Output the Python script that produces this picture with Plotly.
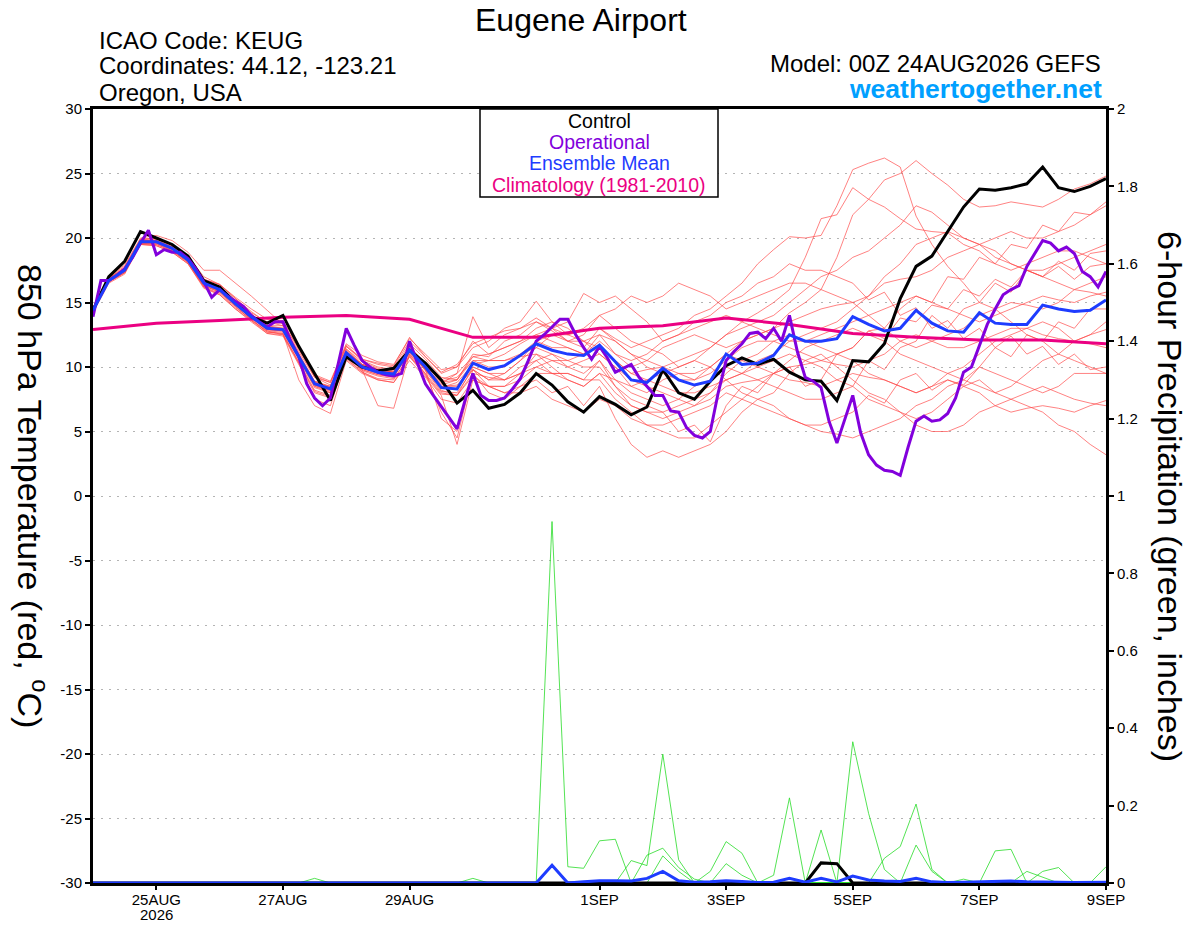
import pandas as pd
import plotly.graph_objects as go

# time axes (GEFS run 00Z 24AUG2026)
times_6h = pd.date_range("2026-08-24 00:00", periods=65, freq="6h")
times_3h = pd.date_range("2026-08-24 00:00", periods=129, freq="3h")
times_day = pd.date_range("2026-08-24 00:00", periods=17, freq="D")

tick_dates = ["2026-08-25", "2026-08-27", "2026-08-29", "2026-09-01",
              "2026-09-03", "2026-09-05", "2026-09-07", "2026-09-09"]
tick_labels = ["25AUG", "27AUG", "29AUG", "1SEP", "3SEP", "5SEP", "7SEP", "9SEP"]
year_label = "2026"

# 850 hPa temperature, deg C (one row = one day, 6-hourly)
control_t = [
    14.4, 17.0, 18.2, 20.5,
    20.0, 19.5, 18.6, 16.7,
    16.2, 15.0, 13.9, 13.4,
    14.0, 11.6, 9.5, 7.4,
    10.8, 10.0, 9.7, 9.9,
    11.3, 10.3, 9.0, 7.2,
    8.2, 6.8, 7.1, 8.0,
    9.5, 8.6, 7.3, 6.5,
    7.7, 7.1, 6.3, 6.9,
    9.8, 8.0, 7.5, 8.9,
    10.1, 10.7, 10.2, 10.6,
    9.6, 9.0, 8.9, 7.4,
    10.5, 10.4, 11.8, 15.3,
    17.8, 18.6, 20.5, 22.4,
    23.8, 23.7, 23.9, 24.2,
    25.5, 23.9, 23.6, 24.0,
    24.6,
]

ens_mean_t = [
    14.4, 16.7, 17.5, 19.7,
    19.7, 19.2, 18.3, 16.5,
    16.0, 14.9, 13.9, 13.0,
    12.9, 10.8, 8.7, 8.3,
    11.1, 10.0, 9.6, 9.45,
    11.3, 10.0, 8.4, 8.3,
    10.3, 9.8, 10.1, 10.9,
    11.8, 11.3, 11.0, 10.9,
    11.7, 10.4, 9.0, 8.8,
    9.9, 9.0, 8.6, 8.9,
    11.0, 10.2, 10.3, 10.9,
    12.5, 12.0, 12.0, 12.2,
    13.9, 13.3, 12.8, 13.0,
    14.4, 13.4, 12.8, 12.7,
    14.2, 13.4, 13.3, 13.3,
    14.8, 14.5, 14.3, 14.4,
    15.2,
]

# operational run, 3-hourly (one row = one day)
operational_t = [
    13.9, 16.7, 16.7, 17.1, 17.6, 18.5, 19.6, 20.6,
    18.7, 19.1, 18.9, 18.9, 18.4, 17.6, 16.6, 15.4,
    16.0, 15.5, 15.1, 14.7, 14.0, 13.5, 13.1, 13.5,
    13.5, 12.0, 10.8, 8.7, 7.6, 7.0, 7.6, 10.3,
    13.0, 11.7, 10.5, 10.0, 9.6, 9.4, 9.3, 9.5,
    12.0, 10.3, 8.7, 7.8, 6.9, 6.0, 5.2, 7.4,
    9.5, 7.8, 7.4, 7.4, 7.6, 8.3, 9.1, 10.5,
    12.0, 12.5, 13.1, 13.7, 13.7, 12.5, 11.5, 10.6,
    11.6, 10.7, 9.6, 9.9, 10.2, 9.2, 8.5, 7.8,
    7.8, 6.6, 6.5, 5.3, 4.7, 4.5, 5.0, 8.0,
    10.5, 11.2, 11.8, 12.6, 12.7, 12.2, 13.0, 12.0,
    14.0, 11.2, 9.2, 8.9, 8.4, 5.8, 4.1, 6.0,
    7.8, 4.9, 3.2, 2.4, 2.0, 1.9, 1.6, 3.8,
    5.8, 6.2, 5.8, 5.9, 6.4, 7.6, 9.6, 10.0,
    11.6, 13.3, 14.5, 15.6, 16.0, 16.3, 17.8, 18.8,
    19.8, 19.6, 19.0, 19.3, 18.8, 17.4, 17.0, 16.2,
    17.4,
]

# climatology (1981-2010), daily
climo_t = [12.9, 13.4, 13.6, 13.85, 14.0, 13.7, 12.3, 12.3, 13.0,
           13.2, 13.8, 13.3, 12.6, 12.3, 12.1, 12.1, 11.8]

# ensemble members, 6-hourly
members_t = [
    [14.6, 17.0, 17.8, 19.9, 20.0, 19.5, 18.6, 17.0, 16.4, 15.3, 14.2, 13.5,
     13.2, 11.2, 9.2, 8.6, 11.6, 10.5, 10.0, 9.8, 11.8, 10.6, 9.2, 9.0,
     11.0, 10.8, 12.0, 12.5, 13.5, 12.8, 12.0, 11.5, 13.0, 12.2, 11.5, 12.0,
     12.5, 13.0, 14.0, 14.5, 15.5, 16.5, 18.0, 19.1, 20.1, 20.0, 20.2, 22.5,
     25.3, 25.8, 26.2, 25.5, 21.7, 19.5, 17.8, 16.5, 15.0, 14.5, 13.5, 12.5,
     12.0, 11.0, 10.5, 10.0, 9.5],
    [14.2, 16.5, 17.2, 19.5, 19.4, 18.9, 18.0, 16.2, 15.6, 14.5, 13.5, 12.6,
     12.4, 10.2, 8.0, 7.6, 10.6, 9.6, 9.0, 8.8, 10.5, 9.2, 7.5, 7.2,
     9.0, 8.5, 8.5, 9.5, 10.5, 9.5, 9.0, 8.5, 9.5, 8.0, 7.0, 6.5,
     6.5, 5.0, 5.5, 4.2, 7.0, 8.5, 8.0, 9.5, 10.0, 8.5, 9.0, 11.0,
     11.5, 12.8, 13.0, 14.5, 15.5, 15.0, 17.0, 16.8, 18.5, 18.0, 19.5, 19.2,
     21.0, 20.5, 22.0, 21.8, 22.8],
    [14.5, 16.9, 17.6, 19.8, 19.9, 19.4, 18.5, 16.8, 16.4, 15.4, 14.5, 13.7,
     13.6, 11.5, 9.4, 8.9, 11.8, 10.9, 10.4, 10.2, 12.2, 11.0, 9.8, 10.0,
     12.0, 11.0, 11.5, 12.0, 13.0, 13.5, 12.5, 13.0, 14.0, 13.0, 12.0, 11.5,
     11.0, 10.0, 10.5, 11.5, 12.5, 13.5, 14.2, 15.0, 16.0, 18.5, 21.5, 21.8,
     23.9, 23.0, 22.4, 21.5, 20.7, 20.5, 20.4, 19.5, 19.0, 18.0, 17.5, 18.0,
     18.5, 19.0, 19.0, 18.5, 18.0],
    [14.3, 16.6, 17.4, 19.6, 19.6, 19.0, 18.2, 16.3, 15.8, 14.7, 13.6, 12.8,
     12.5, 10.4, 8.2, 7.8, 10.8, 9.8, 7.0, 6.8, 11.0, 9.5, 6.5, 4.5,
     9.5, 8.0, 7.5, 8.5, 9.0, 8.0, 8.5, 7.0, 8.5, 6.0, 4.0, 3.0,
     3.5, 3.0, 3.5, 4.0, 5.0, 6.5, 7.5, 8.0, 9.5, 10.5, 11.0, 10.0,
     9.0, 8.0, 7.5, 6.5, 6.0, 6.5, 7.5, 8.5, 9.0, 8.0, 8.5, 9.5,
     10.5, 11.0, 12.0, 12.5, 13.5],
    [14.5, 16.9, 17.7, 19.9, 19.8, 19.3, 18.4, 16.6, 16.2, 15.0, 14.0, 13.2,
     13.0, 10.9, 8.8, 8.4, 11.2, 10.2, 9.8, 9.6, 11.5, 10.2, 8.8, 9.0,
     10.8, 10.5, 10.5, 11.0, 12.0, 11.5, 11.5, 11.0, 12.5, 11.0, 10.0, 10.5,
     11.5, 12.0, 12.5, 12.0, 11.5, 12.0, 12.5, 13.0, 14.2, 15.0, 16.0, 18.5,
     21.8, 23.0, 24.5, 25.0, 26.0, 25.0, 24.1, 23.0, 22.4, 22.5, 22.8, 22.6,
     22.4, 23.0, 23.8, 24.2, 24.8],
    [14.4, 16.7, 17.5, 19.7, 19.7, 19.2, 18.3, 16.4, 15.9, 14.8, 13.8, 12.9,
     12.8, 10.6, 8.5, 8.0, 10.9, 9.8, 9.4, 9.2, 11.2, 9.8, 8.2, 7.8,
     10.0, 9.5, 9.0, 10.0, 10.5, 11.0, 10.0, 9.5, 10.5, 9.0, 8.0, 7.5,
     7.0, 7.5, 8.5, 9.0, 10.0, 9.5, 9.0, 8.5, 8.0, 7.5, 7.5, 8.0,
     8.5, 10.5, 9.8, 11.5, 12.0, 14.0, 13.0, 14.5, 15.0, 16.5, 15.8, 17.5,
     17.0, 18.2, 17.5, 18.8, 19.0],
    [14.6, 17.1, 17.9, 20.0, 20.2, 19.8, 18.9, 17.5, 17.5, 16.5, 15.5, 14.4,
     13.3, 11.5, 9.2, 8.8, 11.6, 10.6, 10.2, 10.0, 12.0, 10.8, 9.5, 10.0,
     11.5, 12.0, 13.0, 13.5, 15.1, 13.5, 13.0, 12.0, 11.5, 10.5, 9.5, 9.8,
     10.0, 10.5, 11.0, 11.5, 12.5, 13.0, 13.5, 14.0, 15.0, 16.0, 17.0, 17.5,
     18.5, 19.0, 20.0, 21.0, 22.5, 22.0, 21.0, 20.0, 19.5, 20.0, 20.5, 20.0,
     20.0, 20.5, 21.0, 21.8, 22.5],
    [14.3, 16.6, 17.3, 19.5, 19.5, 19.0, 18.1, 16.2, 15.7, 14.6, 13.7, 12.7,
     12.6, 9.0, 7.0, 6.4, 10.5, 9.5, 9.0, 8.8, 10.8, 9.3, 7.8, 4.0,
     9.0, 8.5, 8.0, 8.0, 8.5, 7.5, 7.0, 6.5, 7.5, 7.0, 6.0, 5.5,
     5.5, 6.0, 6.5, 7.0, 8.0, 7.5, 7.0, 6.5, 6.0, 5.5, 5.5, 6.0,
     6.5, 7.8, 7.2, 9.0, 9.5, 8.2, 9.0, 8.6, 10.0, 11.5, 10.8, 12.5,
     12.0, 13.5, 13.0, 14.5, 14.5],
    [14.4, 16.8, 17.6, 19.8, 19.8, 19.3, 18.4, 16.6, 16.1, 15.0, 14.1, 13.2,
     13.2, 11.0, 8.9, 8.5, 11.4, 10.4, 9.9, 9.7, 11.6, 10.3, 9.0, 9.5,
     13.9, 11.5, 12.5, 13.0, 13.8, 13.0, 12.0, 12.5, 14.0, 14.5, 15.5, 15.0,
     15.5, 16.5, 16.0, 15.5, 14.5, 15.0, 15.5, 16.0, 16.5, 16.5, 16.0, 15.5,
     15.0, 14.0, 13.0, 12.0, 11.5, 12.0, 12.5, 13.0, 14.0, 14.5, 15.0, 14.8,
     14.5, 15.0, 16.0, 16.5, 17.0],
    [14.5, 16.8, 17.4, 19.6, 19.6, 19.1, 18.2, 16.4, 16.0, 14.9, 13.9, 12.9,
     12.8, 10.7, 8.6, 8.2, 11.0, 9.9, 9.5, 9.3, 11.0, 9.8, 8.5, 8.5,
     9.8, 9.0, 9.5, 10.5, 11.5, 12.5, 12.5, 12.0, 11.0, 10.0, 9.0, 8.5,
     8.0, 7.5, 7.0, 8.0, 9.5, 10.5, 11.0, 12.0, 12.5, 12.0, 11.5, 11.0,
     10.5, 9.5, 9.0, 8.5, 8.0, 8.5, 9.5, 10.0, 11.0, 12.0, 12.5, 13.0,
     13.5, 13.0, 12.0, 11.8, 11.5],
    [14.4, 16.7, 17.5, 19.7, 19.7, 19.2, 18.3, 16.5, 16.1, 15.0, 14.0, 13.0,
     12.9, 10.9, 8.7, 8.4, 11.3, 10.2, 9.7, 9.5, 11.4, 10.1, 8.6, 9.0,
     10.5, 10.5, 11.0, 11.8, 12.5, 12.0, 11.5, 11.0, 12.0, 11.0, 10.5, 11.0,
     12.0, 12.5, 13.5, 14.0, 15.0, 15.5, 16.5, 17.0, 18.0, 17.5, 17.5, 17.0,
     16.5, 15.2, 15.8, 14.0, 14.6, 13.0, 13.6, 12.2, 13.0, 11.5, 12.4, 11.0,
     11.6, 10.2, 11.0, 9.8, 10.0],
    [14.3, 16.6, 17.3, 19.5, 19.4, 18.9, 18.0, 16.1, 15.6, 14.5, 13.6, 12.6,
     12.5, 10.3, 7.5, 7.0, 10.8, 9.7, 9.3, 9.1, 10.8, 9.5, 8.0, 7.8,
     9.5, 9.2, 9.0, 9.5, 10.0, 10.5, 10.5, 10.0, 10.0, 8.5, 7.5, 7.0,
     6.5, 7.0, 7.5, 8.0, 9.0, 9.5, 10.0, 10.5, 11.0, 10.5, 10.0, 9.0,
     8.5, 7.5, 7.0, 6.5, 5.5, 5.0, 5.0, 5.5, 6.5, 7.0, 7.5, 8.0,
     8.5, 8.0, 7.5, 7.2, 7.0],
    [14.6, 16.9, 17.7, 19.9, 20.0, 19.5, 18.6, 16.8, 16.4, 15.3, 14.3, 13.4,
     13.4, 11.3, 9.3, 8.8, 11.7, 10.6, 10.3, 10.1, 12.3, 10.8, 9.6, 10.2,
     11.8, 12.3, 12.8, 13.0, 13.5, 13.0, 12.5, 12.8, 13.0, 12.0, 11.0, 10.0,
     9.5, 9.0, 9.0, 10.0, 11.0, 12.0, 12.5, 13.0, 13.5, 14.0, 14.5, 14.8,
     15.0, 15.5, 16.5, 16.8, 17.0, 17.5, 18.5, 19.0, 19.5, 19.0, 18.0, 17.5,
     17.0, 16.5, 16.0, 15.8, 15.5],
    [14.4, 16.7, 17.5, 19.7, 19.7, 19.2, 18.3, 16.5, 16.0, 14.9, 13.9, 12.9,
     12.8, 10.7, 8.6, 8.1, 11.1, 9.9, 9.5, 9.3, 11.2, 9.8, 6.0, 5.0,
     9.8, 8.5, 8.0, 8.5, 9.5, 9.5, 9.5, 9.0, 9.0, 7.5, 6.5, 5.5,
     5.0, 4.5, 4.5, 5.5, 6.5, 7.5, 8.5, 9.5, 10.5, 11.5, 12.0, 12.5,
     13.0, 12.5, 12.0, 11.0, 10.5, 10.0, 9.5, 9.0, 8.5, 8.0, 7.5, 7.0,
     6.5, 5.5, 5.0, 4.0, 3.2],
    [14.5, 16.8, 17.6, 19.8, 19.8, 19.3, 18.4, 16.7, 16.2, 15.1, 14.1, 13.1,
     13.0, 10.9, 8.8, 8.5, 11.2, 10.1, 9.7, 9.6, 11.5, 10.2, 8.9, 9.2,
     10.5, 10.0, 10.0, 11.0, 11.5, 11.0, 10.5, 11.0, 11.5, 10.5, 9.5, 9.0,
     8.5, 8.0, 8.0, 8.5, 9.0, 9.5, 10.5, 11.0, 12.0, 12.5, 13.0, 13.5,
     14.5, 15.5, 17.0, 18.0, 19.5, 20.0, 20.5, 20.0, 19.5, 18.5, 18.0, 17.5,
     17.5, 18.0, 18.5, 19.0, 19.5],
    [14.3, 16.6, 17.4, 19.6, 19.6, 19.1, 18.2, 16.3, 15.9, 14.8, 13.8, 12.8,
     12.7, 10.5, 8.4, 8.0, 10.9, 9.8, 9.4, 9.3, 11.1, 9.8, 8.4, 8.8,
     10.2, 10.5, 10.5, 10.8, 11.0, 10.0, 9.0, 8.5, 9.5, 9.0, 8.5, 9.0,
     9.5, 10.0, 10.5, 10.0, 9.0, 8.0, 7.5, 7.0, 6.0, 5.5, 5.0, 4.8,
     4.5, 5.0, 5.5, 6.0, 7.0, 7.5, 8.5, 9.0, 10.0, 9.5, 9.0, 8.5,
     8.0, 8.5, 9.5, 9.5, 9.5],
    [14.5, 16.8, 17.5, 19.8, 19.7, 19.2, 18.3, 16.6, 16.1, 15.0, 14.0, 13.1,
     12.9, 10.8, 8.7, 8.3, 11.0, 10.0, 9.6, 9.5, 11.3, 10.0, 8.7, 9.5,
     10.8, 11.0, 11.5, 12.0, 12.5, 13.0, 13.5, 15.7, 15.0, 15.5, 14.5, 13.5,
     12.0, 12.5, 13.0, 13.5, 14.0, 13.5, 13.0, 12.5, 12.0, 12.0, 12.5, 13.0,
     13.5, 14.0, 14.5, 15.0, 15.5, 15.0, 14.5, 14.0, 13.5, 14.0, 14.5, 15.0,
     15.5, 15.2, 15.0, 15.5, 15.8],
    [14.4, 16.8, 17.6, 19.7, 19.8, 19.3, 18.4, 16.5, 16.0, 14.9, 13.9, 13.0,
     12.9, 10.7, 8.5, 8.2, 11.2, 10.2, 9.8, 9.6, 11.4, 9.9, 8.5, 8.6,
     10.0, 9.5, 9.5, 10.5, 12.0, 12.5, 12.0, 12.0, 12.5, 12.0, 11.0, 10.5,
     10.0, 9.5, 9.0, 9.5, 10.5, 11.5, 12.0, 12.0, 11.5, 11.0, 10.5, 10.2,
     10.0, 10.5, 11.0, 12.0, 12.5, 12.0, 11.5, 11.5, 12.0, 12.5, 13.0, 13.0,
     12.5, 12.2, 12.0, 12.5, 12.9],
    [14.5, 16.8, 17.6, 19.8, 19.8, 19.3, 18.4, 16.6, 16.2, 15.1, 14.0, 13.1,
     13.0, 11.0, 8.9, 8.4, 11.4, 10.2, 9.8, 9.6, 11.3, 9.7, 8.1, 8.0,
     9.8, 9.0, 9.0, 9.5, 11.0, 10.5, 10.0, 10.5, 11.0, 10.0, 8.5, 8.0,
     9.0, 9.5, 9.5, 10.0, 11.0, 10.5, 10.0, 9.5, 9.0, 8.8, 8.5, 9.0,
     9.5, 9.2, 9.0, 8.5, 8.0, 8.5, 9.0, 8.5, 8.0, 7.0, 6.5, 6.8,
     7.0, 6.8, 6.5, 7.0, 7.4],
    [14.3, 16.6, 17.3, 19.6, 19.5, 19.0, 18.1, 16.3, 15.8, 14.7, 13.7, 12.7,
     12.6, 10.4, 8.1, 7.7, 10.7, 9.6, 9.1, 9.0, 10.9, 9.4, 7.9, 7.8,
     9.3, 8.5, 8.5, 9.0, 10.0, 9.5, 9.5, 9.0, 10.5, 8.5, 7.0, 6.5,
     6.0, 6.5, 7.0, 7.5, 8.5, 8.8, 9.0, 9.5, 10.0, 10.2, 10.5, 11.0,
     11.5, 12.8, 12.2, 13.8, 13.5, 14.8, 14.5, 16.0, 15.5, 16.8, 16.2, 17.5,
     17.0, 17.8, 16.8, 17.8, 18.0],
]

# 6-hour precipitation, inches (one row = one day)
control_p = [
    0, 0, 0, 0,  0, 0, 0, 0,  0, 0, 0, 0,  0, 0, 0, 0,
    0, 0, 0, 0,  0, 0, 0, 0,  0, 0, 0, 0,  0, 0, 0, 0,
    0, 0, 0, 0,  0, 0, 0, 0,  0, 0, 0, 0,  0, 0, 0.052, 0.05,
    0, 0, 0, 0,  0, 0, 0, 0,  0, 0, 0, 0,  0, 0, 0, 0,
    0,
]

ens_mean_p = [
    0, 0, 0, 0,  0, 0, 0, 0,  0, 0, 0, 0,  0, 0, 0, 0,
    0, 0, 0, 0,  0, 0, 0, 0,  0, 0, 0, 0,  0, 0.046, 0, 0.003,
    0.006, 0.006, 0.005, 0.012,  0.03, 0.006, 0.002, 0.003,
    0.006, 0.004, 0.001, 0.002,  0.012, 0.002, 0.012, 0.003,
    0.018, 0.008, 0.005, 0.004,  0.012, 0.003, 0.001, 0.002,
    0.003, 0.004, 0.005, 0.003,  0.003, 0.002, 0.001, 0.001,
    0.002,
]

members_p = [
    [0, 0, 0, 0,  0, 0, 0, 0,  0, 0, 0, 0,  0, 0, 0, 0,
     0, 0, 0, 0,  0, 0, 0, 0,  0, 0, 0, 0,  0, 0.934, 0.042, 0.038,
     0.109, 0.113, 0, 0,  0, 0, 0, 0,  0, 0, 0, 0,  0, 0, 0, 0,
     0, 0, 0, 0,  0, 0, 0, 0,  0, 0, 0, 0,  0, 0, 0, 0,  0],
    [0, 0, 0, 0,  0, 0, 0, 0,  0, 0, 0, 0,  0, 0, 0, 0,
     0, 0, 0, 0,  0, 0, 0, 0,  0, 0, 0, 0,  0, 0, 0, 0,
     0, 0, 0.058, 0.045,  0.333, 0.06, 0, 0,  0, 0, 0, 0,  0, 0, 0, 0,
     0, 0, 0, 0,  0, 0, 0, 0,  0, 0, 0, 0,  0, 0, 0, 0,  0],
    [0, 0, 0, 0,  0, 0, 0, 0,  0, 0, 0, 0,  0, 0, 0, 0,
     0, 0, 0, 0,  0, 0, 0, 0,  0, 0, 0, 0,  0, 0, 0, 0,
     0, 0, 0, 0.072,  0.09, 0.04, 0.01, 0,  0, 0, 0, 0,  0, 0, 0, 0,
     0, 0, 0, 0,  0, 0, 0, 0,  0, 0, 0, 0,  0, 0, 0, 0,  0],
    [0, 0, 0, 0,  0, 0, 0, 0,  0, 0, 0, 0,  0, 0, 0, 0,
     0, 0, 0, 0,  0, 0, 0, 0,  0, 0, 0, 0,  0, 0, 0, 0,
     0, 0, 0, 0,  0, 0, 0, 0.03,  0.107, 0.077, 0, 0,  0, 0, 0, 0,
     0, 0, 0, 0,  0, 0, 0, 0,  0, 0, 0, 0,  0, 0, 0, 0,  0],
    [0, 0, 0, 0,  0, 0, 0, 0,  0, 0, 0, 0,  0, 0, 0, 0,
     0, 0, 0, 0,  0, 0, 0, 0,  0, 0, 0, 0,  0, 0, 0, 0,
     0, 0, 0, 0,  0, 0, 0, 0,  0, 0, 0, 0.02,  0.22, 0, 0, 0,
     0, 0, 0, 0,  0, 0, 0, 0,  0, 0, 0, 0,  0, 0, 0, 0,  0],
    [0, 0, 0, 0,  0, 0, 0, 0,  0, 0, 0, 0,  0, 0, 0, 0,
     0, 0, 0, 0,  0, 0, 0, 0,  0, 0, 0, 0,  0, 0, 0, 0,
     0, 0, 0, 0,  0, 0, 0, 0,  0, 0, 0, 0,  0, 0, 0.137, 0,
     0, 0, 0, 0,  0, 0, 0, 0,  0, 0, 0, 0,  0, 0, 0, 0,  0],
    [0, 0, 0, 0,  0, 0, 0, 0,  0, 0, 0, 0,  0, 0, 0, 0,
     0, 0, 0, 0,  0, 0, 0, 0,  0, 0, 0, 0,  0, 0, 0, 0,
     0, 0, 0, 0,  0, 0, 0, 0,  0, 0, 0, 0,  0, 0, 0, 0,
     0.365, 0.18, 0.035, 0,  0, 0, 0, 0,  0, 0, 0, 0,  0, 0, 0, 0,  0],
    [0, 0, 0, 0,  0, 0, 0, 0,  0, 0, 0, 0,  0, 0, 0, 0,
     0, 0, 0, 0,  0, 0, 0, 0,  0, 0, 0, 0,  0, 0, 0, 0,
     0, 0, 0, 0,  0, 0, 0, 0,  0, 0, 0, 0,  0, 0, 0, 0,
     0, 0, 0.064, 0.094,  0.204, 0.035, 0, 0,  0, 0, 0, 0,  0, 0, 0, 0,  0],
    [0, 0, 0, 0,  0, 0, 0, 0,  0, 0, 0, 0,  0, 0, 0, 0,
     0, 0, 0, 0,  0, 0, 0, 0,  0, 0, 0, 0,  0, 0, 0, 0,
     0, 0, 0, 0,  0, 0, 0, 0,  0, 0, 0, 0,  0, 0, 0, 0,
     0, 0, 0, 0,  0.098, 0.03, 0, 0,  0, 0.083, 0.087, 0,  0, 0, 0, 0,  0],
    [0, 0, 0, 0,  0, 0, 0, 0,  0, 0, 0, 0,  0, 0, 0.012, 0,
     0, 0, 0, 0,  0, 0, 0, 0,  0.012, 0, 0, 0,  0, 0, 0, 0,
     0, 0, 0, 0,  0, 0, 0, 0,  0, 0, 0, 0,  0, 0, 0, 0,
     0, 0, 0, 0,  0, 0, 0, 0,  0, 0, 0, 0,  0.03, 0.04, 0, 0,  0.042],
    [0, 0, 0, 0,  0, 0, 0, 0,  0, 0, 0, 0,  0, 0, 0, 0,
     0, 0, 0, 0,  0, 0, 0, 0,  0, 0, 0, 0,  0, 0, 0, 0,
     0, 0, 0, 0,  0.07, 0.03, 0, 0,  0.05, 0.02, 0, 0,  0, 0, 0, 0,
     0, 0, 0, 0,  0, 0, 0, 0.01,  0, 0, 0, 0.03,  0.015, 0, 0, 0,  0],
]

FONT = "Liberation Sans, Arial, sans-serif"
RED = "rgba(255,70,70,0.85)"
GREEN = "rgb(40,220,40)"
BLACK = "black"
PURPLE = "rgb(130,0,220)"
BLUE = "rgb(30,60,255)"
MAGENTA = "rgb(235,0,130)"

# plot box in pixels (body margin is removed after load)
L, R, T, B = 93, 1106, 109, 883
FIG_W, FIG_H = 1200, 927


def px(x):
    return (x - L) / (R - L)


def py(y):
    return (B - y) / (B - T)


fig = go.Figure()

for m in members_t:
    fig.add_trace(go.Scatter(x=times_6h, y=m, mode="lines",
                             line=dict(color=RED, width=0.8), hoverinfo="skip"))

for m in members_p:
    fig.add_trace(go.Scatter(x=times_6h, y=m, mode="lines", yaxis="y2",
                             line=dict(color=GREEN, width=0.8), hoverinfo="skip"))

fig.add_trace(go.Scatter(x=times_day, y=climo_t, mode="lines",
                         line=dict(color=MAGENTA, width=3)))
fig.add_trace(go.Scatter(x=times_6h, y=control_t, mode="lines",
                         line=dict(color=BLACK, width=3)))
fig.add_trace(go.Scatter(x=times_3h, y=operational_t, mode="lines",
                         line=dict(color=PURPLE, width=3)))
fig.add_trace(go.Scatter(x=times_6h, y=ens_mean_t, mode="lines",
                         line=dict(color=BLUE, width=3)))
fig.add_trace(go.Scatter(x=times_6h, y=control_p, mode="lines", yaxis="y2",
                         line=dict(color=BLACK, width=3)))
fig.add_trace(go.Scatter(x=times_6h, y=ens_mean_p, mode="lines", yaxis="y2",
                         line=dict(color=BLUE, width=3)))

temp_ticks = list(range(-30, 31, 5))
precip_ticks = [0, 0.2, 0.4, 0.6, 0.8, 1, 1.2, 1.4, 1.6, 1.8, 2]

fig.update_layout(
    width=FIG_W, height=FIG_H, autosize=False,
    margin=dict(l=L, r=FIG_W - R, t=T, b=FIG_H - B),
    paper_bgcolor="white", plot_bgcolor="white",
    showlegend=False,
    font=dict(family=FONT, color="black", size=14),
    xaxis=dict(
        type="date", range=["2026-08-24 00:00", "2026-09-09 00:00"],
        tickvals=tick_dates, ticktext=tick_labels, automargin=False,
        ticks="outside", ticklen=4, tickwidth=1.5, tickcolor="black",
        ticklabelstandoff=-3,
        showline=True, linewidth=3, linecolor="black", mirror=True,
        showgrid=False, zeroline=False, tickfont=dict(size=15),
    ),
    yaxis=dict(
        range=[-30, 30], tickvals=temp_ticks, automargin=False,
        ticktext=[str(v) for v in temp_ticks],
        ticks="outside", ticklen=5, tickwidth=1.5, tickcolor="black",
        showline=True, linewidth=3, linecolor="black",
        showgrid=True, gridcolor="#b4b4b4", griddash="2px,6px", gridwidth=1.2,
        zeroline=False, tickfont=dict(size=15),
    ),
    yaxis2=dict(
        range=[0, 2], overlaying="y", side="right", automargin=False,
        tickvals=precip_ticks, ticktext=[str(v) for v in precip_ticks],
        ticks="outside", ticklen=5, tickwidth=1.5, tickcolor="black",
        showline=True, linewidth=3, linecolor="black",
        showgrid=False, zeroline=False, tickfont=dict(size=15),
    ),
)

# year under the first date label
fig.add_annotation(text=year_label, xref="x", yref="paper", x=tick_dates[0], y=py(915),
                   xanchor="center", yanchor="middle", showarrow=False,
                   font=dict(size=15, family=FONT))

# legend box
fig.add_shape(type="rect", xref="paper", yref="paper",
              x0=px(480), x1=px(718), y0=py(197), y1=py(109),
              fillcolor="white", line=dict(color="black", width=1.5), layer="above")

legend_rows = [("Control", BLACK, 121), ("Operational", PURPLE, 142),
               ("Ensemble Mean", BLUE, 163), ("Climatology (1981-2010)", MAGENTA, 185)]
for text, color, y in legend_rows:
    fig.add_annotation(text=text, xref="paper", yref="paper", x=px(599), y=py(y),
                       xanchor="center", yanchor="middle", showarrow=False,
                       font=dict(size=19.5, color=color, family=FONT))

# header texts
fig.add_annotation(text="Eugene Airport", xref="paper", yref="paper",
                   x=px(581), y=py(20), xanchor="center", yanchor="middle",
                   showarrow=False, font=dict(size=32, family=FONT))
for text, y in [("ICAO Code: KEUG", 40), ("Coordinates: 44.12, -123.21", 66),
                ("Oregon, USA", 92)]:
    fig.add_annotation(text=text, xref="paper", yref="paper", x=px(97), y=py(y),
                       xanchor="left", yanchor="middle", showarrow=False,
                       font=dict(size=24, family=FONT))
fig.add_annotation(text="Model: 00Z 24AUG2026 GEFS", xref="paper", yref="paper",
                   x=px(1103), y=py(64), xanchor="right", yanchor="middle",
                   showarrow=False, font=dict(size=24, family=FONT))
fig.add_annotation(text="<b>weathertogether.net</b>", xref="paper", yref="paper",
                   x=px(1104), y=py(89), xanchor="right", yanchor="middle",
                   showarrow=False, font=dict(size=26.5, family=FONT, color="rgb(0,160,255)"))

# axis titles (both read top to bottom)
fig.add_annotation(text="850 hPa Temperature (red, <sup>o</sup>C)", xref="paper", yref="paper",
                   x=px(33), y=0.5, xanchor="center", yanchor="middle", textangle=90,
                   showarrow=False, font=dict(size=34, family=FONT))
fig.add_annotation(text="6-hour Precipitation (green, inches)", xref="paper", yref="paper",
                   x=px(1170), y=0.5, xanchor="center", yanchor="middle", textangle=90,
                   showarrow=False, font=dict(size=34, family=FONT))

fig.write_html("out.html", config={"displayModeBar": False},
               post_script="document.body.style.margin='0';")
